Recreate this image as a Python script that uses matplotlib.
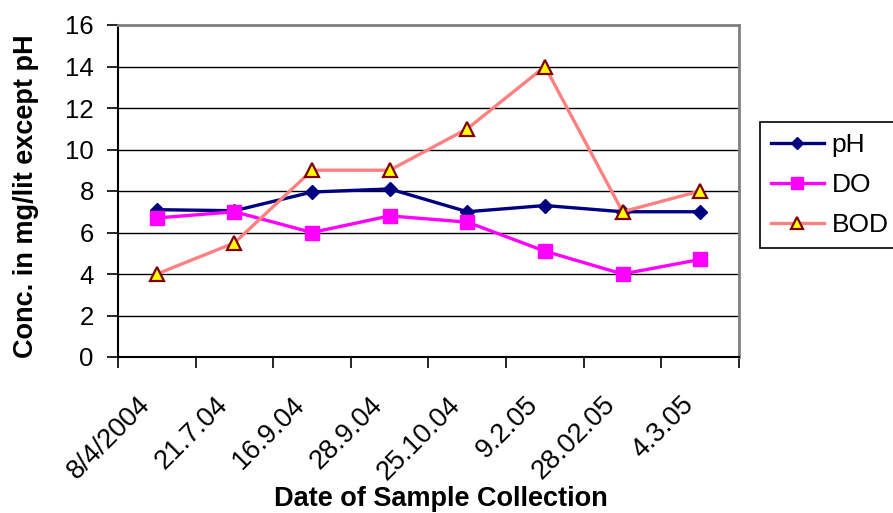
import matplotlib
matplotlib.use("Agg")
import matplotlib.pyplot as plt
import matplotlib.transforms as mtransforms
import numpy as np

dates = ["8/4/2004", "21.7.04", "16.9.04", "28.9.04", "25.10.04", "9.2.05", "28.02.05", "4.3.05"]
ph = [7.1, 7.05, 7.95, 8.1, 7.0, 7.3, 7.0, 7.0]
do = [6.7, 7.0, 6.0, 6.8, 6.5, 5.1, 4.0, 4.7]
bod = [4.0, 5.5, 9.0, 9.0, 11.0, 14.0, 7.0, 8.0]
yticks = [0, 2, 4, 6, 8, 10, 12, 14, 16]

plt.rcParams['font.family'] = ['Liberation Sans', 'DejaVu Sans']

W, H = 893, 513
fig = plt.figure(figsize=(W / 100, H / 100), dpi=100)
ax = fig.add_axes([118 / W, 1 - 357 / H, (739 - 118) / W, (357 - 25) / H])

x = np.arange(len(dates))
ax.plot(x, ph, color='#000080', lw=2.4, marker='D', ms=7.5, mfc='#000080', mec='#000080', label='pH', zorder=3)
ax.plot(x, do, color='#FF00FF', lw=2.4, marker='s', ms=10.5, mfc='#FF00FF', mec='#FF00FF', label='DO', zorder=4)
ax.plot(x, bod, color='#FF8080', lw=2.4, marker='^', ms=10, mfc='#FFFF00', mec='#800000', mew=1.6, label='BOD', zorder=5)

ax.set_xlim(-0.5, len(dates) - 0.5)
ax.set_ylim(0, 16)
ax.set_yticks(yticks)
ax.set_yticklabels([str(v) for v in yticks], fontsize=18.5)
ax.yaxis.grid(True, color='black', lw=1)
ax.set_axisbelow(True)

ax.set_xticks(x)
ax.set_xticklabels(dates, rotation=45, ha='right', va='top', rotation_mode='anchor', fontsize=19.5)
ax.tick_params(axis='x', which='major', length=0, pad=25)
offset = mtransforms.ScaledTranslation(-20 / 100, 0, fig.dpi_scale_trans)
for lbl in ax.get_xticklabels():
    lbl.set_transform(lbl.get_transform() + offset)
ax.set_xticks(np.arange(-0.5, len(dates)), minor=True)
ax.tick_params(axis='x', which='minor', length=8, width=1.2, color='black', direction='out')
ax.tick_params(axis='y', length=8, width=1.2, color='black', direction='out', pad=9.4)

for s in ['top', 'right']:
    ax.spines[s].set_color('#808080')
    ax.spines[s].set_linewidth(2)
for s in ['left', 'bottom']:
    ax.spines[s].set_color('black')
    ax.spines[s].set_linewidth(1.5)

fig.text(26 / W, 1 - 196 / H, 'Conc. in mg/lit except pH', rotation=90, fontsize=19.5,
         fontweight='bold', ha='center', va='center')
fig.text(441 / W, 1 - 506 / H, 'Date of Sample Collection', fontsize=19.5,
         fontweight='bold', ha='center', va='baseline')

leg = fig.legend(loc='upper left', bbox_to_anchor=(760 / W, 1 - 122 / H), fontsize=19,
                 frameon=True, fancybox=False, edgecolor='black', framealpha=1,
                 handlelength=2.0, borderpad=0.42, labelspacing=0.6, handletextpad=0.3,
                 borderaxespad=0, markerscale=0.8)
leg.get_frame().set_linewidth(1.2)

fig.savefig('out.png', dpi=100)
